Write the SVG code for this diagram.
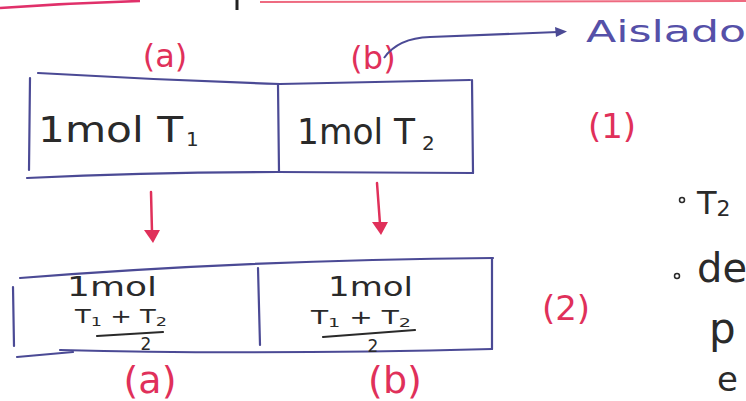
<svg xmlns="http://www.w3.org/2000/svg" width="746" height="401" viewBox="0 0 746 401">
<style>
.box{fill:none;stroke:#4b4a95;stroke-width:2.2;stroke-linecap:round;stroke-linejoin:round}
.ink{font-family:"DejaVu Sans","Liberation Sans",sans-serif;fill:#2a2a2a}
.red{font-family:"DejaVu Sans","Liberation Sans",sans-serif;fill:#e0305a}
.blue{font-family:"DejaVu Sans","Liberation Sans",sans-serif;fill:#5550a8}
.arr{fill:none;stroke:#e0305a;stroke-width:2.5;stroke-linecap:round}
.head{fill:#e0305a}
.frac{stroke:#2a2a2a;stroke-width:2.2;stroke-linecap:round}
</style>
<rect width="746" height="401" fill="#ffffff"/>
<!-- top page marks -->
<path d="M0,8 Q70,3 140,1" fill="none" stroke="#e0306a" stroke-width="2.5"/>
<path d="M260,2 L746,1" fill="none" stroke="#ee6a80" stroke-width="1.8"/>
<path d="M237,0 L237,10" stroke="#222" stroke-width="3"/>

<g id="box1">
<path class="box" d="M30,78 L29,170"/>
<path class="box" d="M38,73 Q160,80 280,84 L470,80"/>
<path class="box" d="M472,80 L473,173"/>
<path class="box" d="M27,178 Q150,172 278,172 L473,173"/>
<path class="box" d="M278,85 L279,172"/>
<text class="ink" x="38" y="142" font-size="36" textLength="145" lengthAdjust="spacingAndGlyphs">1mol T</text>
<text class="ink" x="186" y="146" font-size="20">1</text>
<text class="ink" x="297" y="144" font-size="36" textLength="118" lengthAdjust="spacingAndGlyphs">1mol T</text>
<text class="ink" x="422" y="150" font-size="20">2</text>
</g>

<g id="labels-top">
<text class="red" x="165" y="67" font-size="32" text-anchor="middle">(a)</text>
<text class="red" x="373" y="69" font-size="32" text-anchor="middle">(b)</text>
<text class="red" x="612" y="138" font-size="34" text-anchor="middle">(1)</text>
<text class="red" x="566" y="320" font-size="34" text-anchor="middle">(2)</text>
</g>

<g id="aislado">
<text class="blue" x="586" y="42" font-size="30" textLength="160" lengthAdjust="spacingAndGlyphs">Aislado</text>
</g>

<g id="connectors">
<path d="M384,58 Q398,38 430,37 L558,32" fill="none" stroke="#4b4a95" stroke-width="2"/>
<polygon points="555,27 567,31.5 556,37" fill="#4b4a95"/>
<path class="arr" d="M151,192 L152,232"/>
<polygon class="head" points="144,230 160,230 153,243"/>
<path class="arr" d="M377,183 L380,224"/>
<polygon class="head" points="372,222 388,222 381,235"/>
</g>

<g id="box2">
<path class="box" d="M13,287 L14,346"/>
<path class="box" d="M20,278 Q250,260 493,258"/>
<path class="box" d="M492,258 L492,349"/>
<path class="box" d="M60,350 Q250,355 492,349"/>
<path class="box" d="M17,357 L73,352"/>
<path class="box" d="M258,268 L260,345"/>
<text class="ink" x="67" y="296" font-size="26" textLength="90" lengthAdjust="spacingAndGlyphs">1mol</text>
<text class="ink" x="75" y="323" font-size="19" textLength="92" lengthAdjust="spacingAndGlyphs">T<tspan font-size="13" dy="3">1</tspan><tspan dy="-3"> + T</tspan><tspan font-size="13" dy="3">2</tspan></text>
<line class="frac" x1="97" y1="336" x2="163" y2="332"/>
<text class="ink" x="146" y="350" font-size="17" text-anchor="middle">2</text>
<text class="ink" x="328" y="296" font-size="26" textLength="85" lengthAdjust="spacingAndGlyphs">1mol</text>
<text class="ink" x="311" y="324" font-size="19" textLength="100" lengthAdjust="spacingAndGlyphs">T<tspan font-size="13" dy="3">1</tspan><tspan dy="-3"> + T</tspan><tspan font-size="13" dy="3">2</tspan></text>
<line class="frac" x1="323" y1="337" x2="415" y2="330"/>
<text class="ink" x="373" y="352" font-size="17" text-anchor="middle">2</text>
</g>

<g id="labels-bottom">
<text class="red" x="150" y="393" font-size="38" text-anchor="middle">(a)</text>
<text class="red" x="395" y="393" font-size="38" text-anchor="middle">(b)</text>
</g>

<g id="notes">
<circle cx="682" cy="200" r="2.5" fill="none" stroke="#2a2a2a" stroke-width="1.5"/>
<text class="ink" x="697" y="214" font-size="32">T<tspan font-size="22" dy="2">2</tspan></text>
<circle cx="677" cy="276" r="2.5" fill="none" stroke="#2a2a2a" stroke-width="1.5"/>
<text class="ink" x="697" y="282" font-size="40">de</text>
<text class="ink" x="709" y="343" font-size="42">p</text>
<text class="ink" x="717" y="391" font-size="34">e</text>
</g>
</svg>
